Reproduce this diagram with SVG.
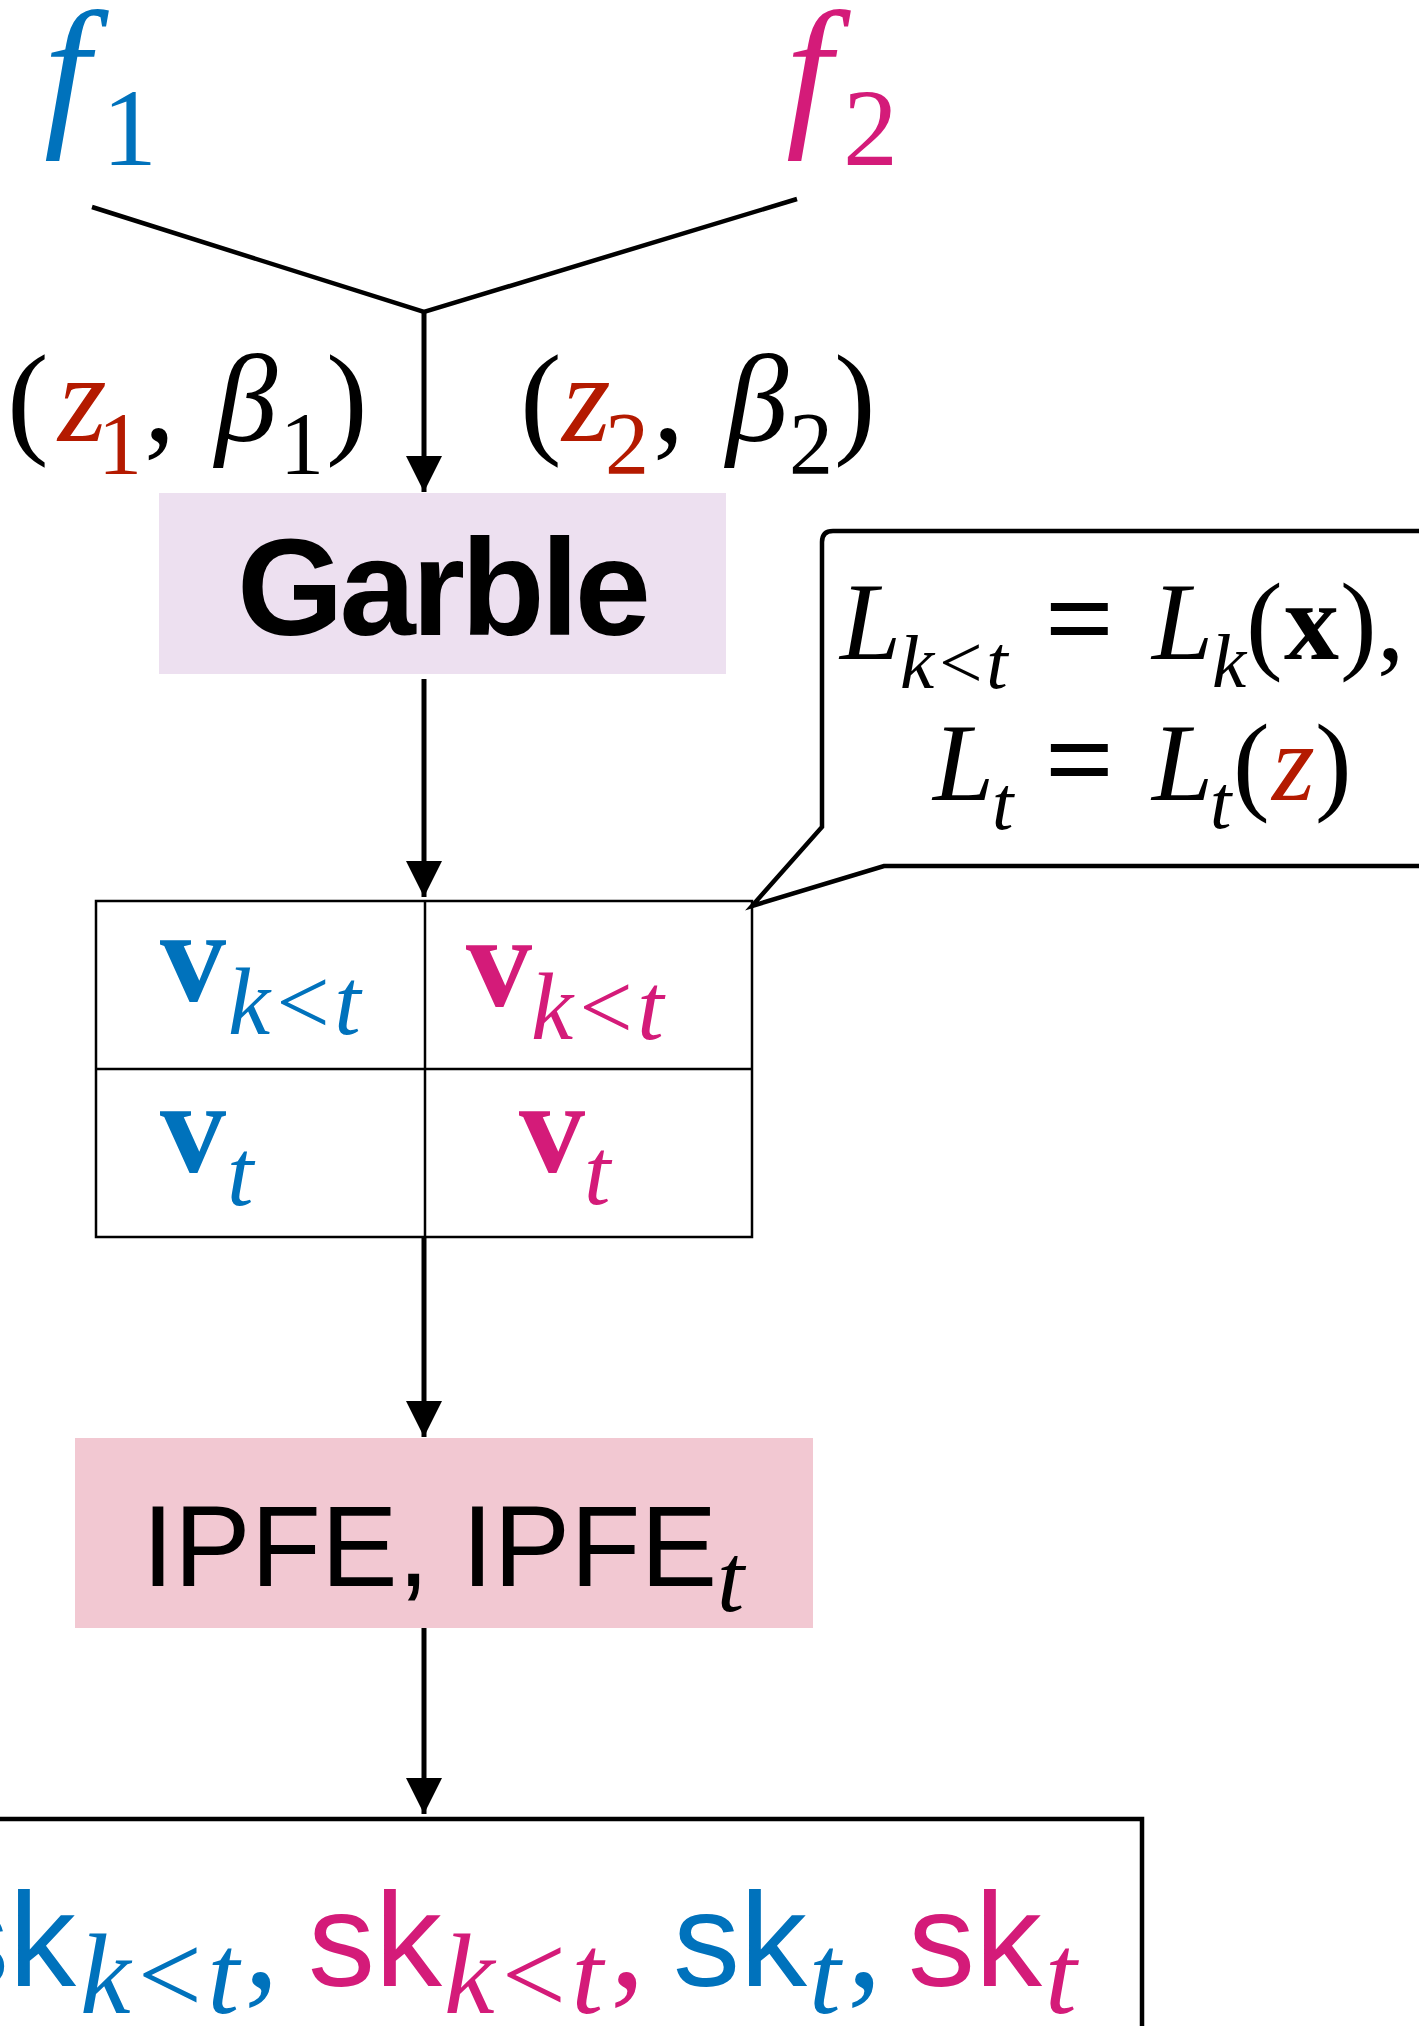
<svg xmlns="http://www.w3.org/2000/svg" width="1419" height="2026" viewBox="0 0 1419 2026">
<style>
.m{font-family:"Liberation Serif","Times New Roman",serif}
.i{font-style:italic}
.b{font-weight:bold}
.s{font-family:"Liberation Sans",Arial,sans-serif}
.blue{fill:#0072BC}
.mag{fill:#D41B79}
.red{fill:#B41A00}
.blk{fill:#000}
.ln{stroke:#000;fill:none}
</style>
<defs>
<marker id="ah" markerUnits="userSpaceOnUse" markerWidth="40" markerHeight="40" viewBox="0 0 40 40" refX="36" refY="18" orient="auto">
<path d="M0,0 L36,18 L0,36 Z" fill="#000"/>
</marker>
</defs>
<rect width="1419" height="2026" fill="#fff"/>

<g id="node-f1">
<text class="m i blue" x="44" y="126" font-size="165">f</text>
<text class="m blue" x="102" y="165" font-size="110">1</text>
</g>
<g id="node-f2">
<text class="m i mag" x="786" y="126" font-size="165">f</text>
<text class="m mag" x="843" y="165" font-size="110">2</text>
</g>

<g id="connectors">
<polyline class="ln" stroke-width="4.5" points="92,207 424,312 797,199"/>
<line class="ln" stroke-width="5" x1="424" y1="312" x2="424" y2="492" marker-end="url(#ah)"/>
<line class="ln" stroke-width="5" x1="424" y1="679" x2="424" y2="897" marker-end="url(#ah)"/>
<line class="ln" stroke-width="5" x1="424" y1="1237" x2="424" y2="1437" marker-end="url(#ah)"/>
<line class="ln" stroke-width="5" x1="424" y1="1628" x2="424" y2="1814" marker-end="url(#ah)"/>
</g>

<g id="label-1" class="m">
<text class="blk" x="7" y="441" font-size="125">(</text>
<text class="i red" x="58" y="441" font-size="125">z</text>
<text class="red" x="98" y="473" font-size="88">1</text>
<text class="blk" x="144" y="441" font-size="125">,</text>
<text class="i blk" x="215" y="441" font-size="125">β</text>
<text class="blk" x="280" y="473" font-size="88">1</text>
<text class="blk" x="326" y="441" font-size="125">)</text>
</g>
<g id="label-2" class="m">
<text class="blk" x="520" y="441" font-size="125">(</text>
<text class="i red" x="562" y="441" font-size="125">z</text>
<text class="red" x="605" y="473" font-size="88">2</text>
<text class="blk" x="653" y="441" font-size="125">,</text>
<text class="i blk" x="726" y="441" font-size="125">β</text>
<text class="blk" x="789" y="473" font-size="88">2</text>
<text class="blk" x="834" y="441" font-size="125">)</text>
</g>

<g id="node-garble">
<rect x="159" y="493" width="567" height="181" fill="#EDE0F0"/>
<text class="s b blk" x="237" y="635" font-size="137" letter-spacing="-4">Garble</text>
</g>

<g id="node-callout">
<path class="ln" stroke-width="4.5" stroke-linejoin="miter" d="M1430,531 L833,531 Q822,531 822,542 L822,827 L752,906 L884,866 L1430,866"/>
<g class="m blk">
<text class="i" x="840" y="659" font-size="110">L</text>
<text class="i" x="900" y="688" font-size="77">k&lt;t</text>
<text x="1046" y="659" font-size="118" stroke="#000" stroke-width="2">=</text>
<text class="i" x="1152" y="659" font-size="110">L</text>
<text class="i" x="1212" y="687" font-size="77">k</text>
<text x="1246" y="659" font-size="110">(</text>
<text class="b" x="1284" y="659" font-size="110">x</text>
<text x="1340" y="659" font-size="110">)</text>
<text x="1377" y="659" font-size="110">,</text>
<text class="i" x="933" y="800" font-size="110">L</text>
<text class="i" x="992" y="829" font-size="77">t</text>
<text x="1046" y="800" font-size="118" stroke="#000" stroke-width="2">=</text>
<text class="i" x="1152" y="800" font-size="110">L</text>
<text class="i" x="1210" y="828" font-size="77">t</text>
<text x="1233" y="800" font-size="110">(</text>
<text class="i red" x="1272" y="800" font-size="110">z</text>
<text x="1315" y="800" font-size="110">)</text>
</g>
</g>

<g id="node-table">
<rect class="ln" stroke-width="2.5" x="96" y="901" width="656" height="336"/>
<line class="ln" stroke-width="2.5" x1="96" y1="1069" x2="752" y2="1069"/>
<line class="ln" stroke-width="2.5" x1="425" y1="901" x2="425" y2="1237"/>
<g class="m">
<text class="b blue" x="160" y="1001" font-size="132">v</text>
<text class="i blue" x="228" y="1034" font-size="95">k&lt;t</text>
<text class="b mag" x="466" y="1006" font-size="132">v</text>
<text class="i mag" x="531" y="1039" font-size="95">k&lt;t</text>
<text class="b blue" x="160" y="1172" font-size="132">v</text>
<text class="i blue" x="227" y="1205" font-size="95">t</text>
<text class="b mag" x="519" y="1172" font-size="132">v</text>
<text class="i mag" x="584" y="1204" font-size="95">t</text>
</g>
</g>

<g id="node-ipfe">
<rect x="75" y="1438" width="738" height="190" fill="#F2C8D2"/>
<text class="s blk" x="142" y="1586" font-size="115">IPFE, IPFE</text>
<text class="m i blk" x="717" y="1611" font-size="98">t</text>
</g>

<g id="node-sk">
<rect class="ln" stroke-width="4.5" x="-10" y="1819" width="1152" height="260"/>
<text class="s blue" x="-58" y="1986" font-size="134">sk</text>
<text class="m i blue" x="80" y="2013" font-size="114">k&lt;t</text>
<text class="m blue" x="244" y="1986" font-size="140">,</text>
<text class="s mag" x="308" y="1986" font-size="134">sk</text>
<text class="m i mag" x="444" y="2013" font-size="114">k&lt;t</text>
<text class="m mag" x="610" y="1986" font-size="140">,</text>
<text class="s blue" x="673" y="1986" font-size="134">sk</text>
<text class="m i blue" x="809" y="2013" font-size="114">t</text>
<text class="m blue" x="847" y="1986" font-size="140">,</text>
<text class="s mag" x="908" y="1986" font-size="134">sk</text>
<text class="m i mag" x="1045" y="2013" font-size="114">t</text>
</g>
</svg>
